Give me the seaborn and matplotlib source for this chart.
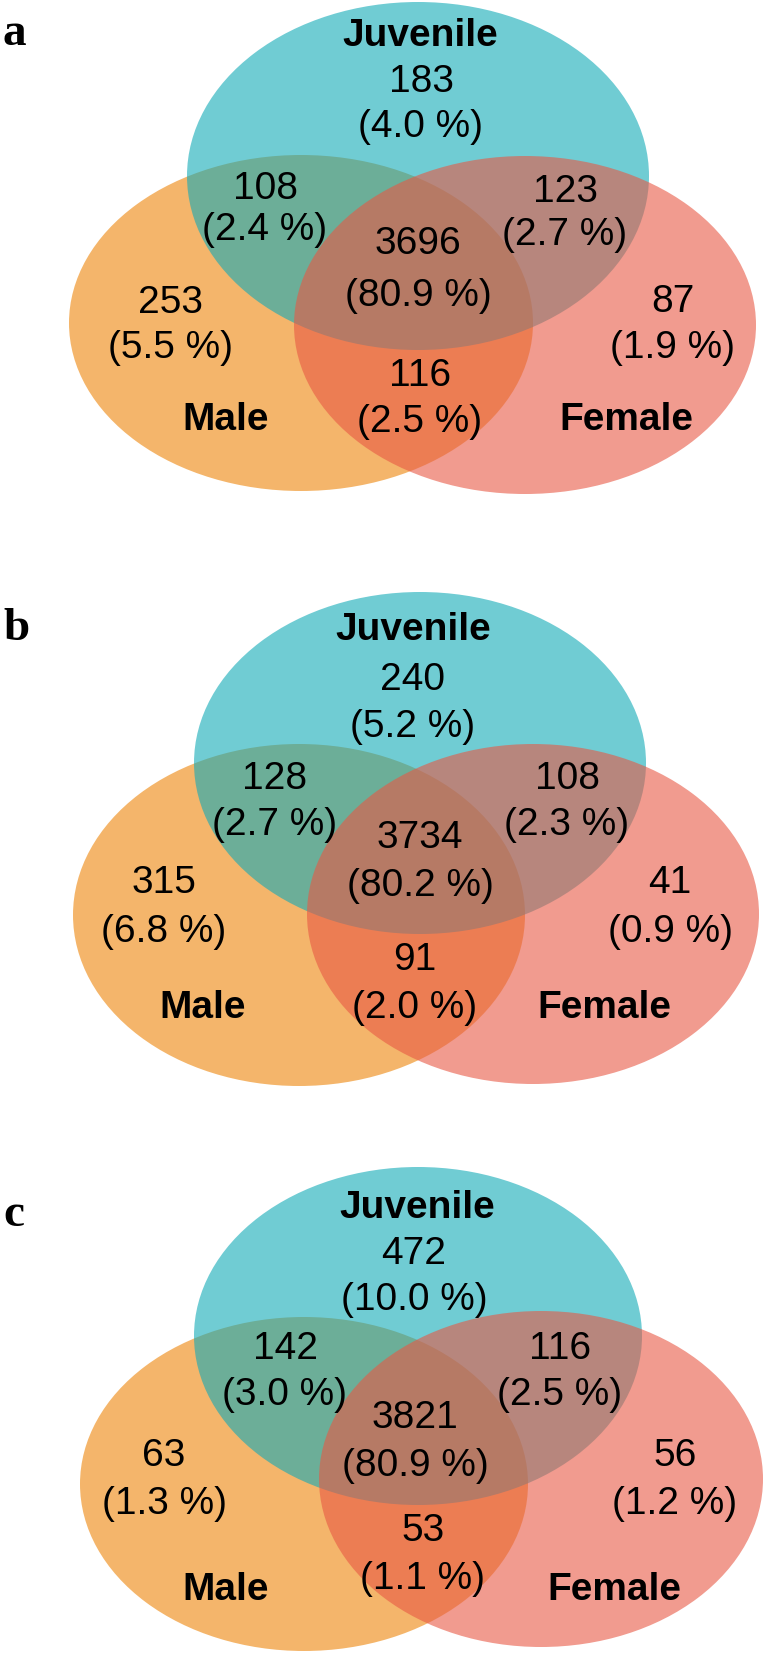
import matplotlib
matplotlib.use("Agg")
import matplotlib.pyplot as plt
from matplotlib.patches import Ellipse
import seaborn as sns

# ---------------- data ----------------
sets = ["Juvenile", "Male", "Female"]
panels = ["a", "b", "c"]
# region order: J only, J&M, J&F, J&M&F, M only, F only, M&F
regions = ["J", "JM", "JF", "JMF", "M", "F", "MF"]
counts_a = [183, 108, 123, 3696, 253, 87, 116]
pcts_a = [4.0, 2.4, 2.7, 80.9, 5.5, 1.9, 2.5]
counts_b = [240, 128, 108, 3734, 315, 41, 91]
pcts_b = [5.2, 2.7, 2.3, 80.2, 6.8, 0.9, 2.0]
counts_c = [472, 142, 116, 3821, 63, 56, 53]
pcts_c = [10.0, 3.0, 2.5, 80.9, 1.3, 1.2, 1.1]

# ---------------- style ----------------
sns.set_theme(style="white")
plt.rcParams["font.family"] = ["Liberation Sans", "DejaVu Sans"]

set_colors = {"Male": "#ED8508", "Juvenile": "#11AAB7", "Female": "#E85844"}
draw_order = ["Male", "Juvenile", "Female"]
ALPHA = 0.6

# layout (pixel coordinates, y downward; text positions are visual centres)
layout = {
    "a": {
        "ell": {"Juvenile": (418, 177, 231, 174), "Male": (301, 324, 232, 168), "Female": (525, 326, 231, 169)},
        "letter": (3, 45),
        "labels": {"Juvenile": (420, 32), "Male": (226, 416), "Female": (626, 416)},
        "pos": {"J": (421, 78, 127), "JM": (265, 185, 230), "JF": (565, 188, 235), "JMF": (418, 240, 296),
                "M": (170, 299, 348), "F": (673, 298, 348), "MF": (420, 372, 422)},
    },
    "b": {
        "ell": {"Juvenile": (420, 764, 226, 171), "Male": (299, 916, 226, 171), "Female": (533, 915, 226, 170)},
        "letter": (3, 640),
        "labels": {"Juvenile": (413, 626), "Male": (203, 1004), "Female": (604, 1004)},
        "pos": {"J": (413, 676, 727), "JM": (275, 775, 825), "JF": (567, 775, 825), "JMF": (420, 834, 886),
                "M": (164, 879, 932), "F": (670, 879, 932), "MF": (415, 956, 1008)},
    },
    "c": {
        "ell": {"Juvenile": (418, 1337, 224, 169), "Male": (304, 1485, 224, 167), "Female": (541, 1480, 222, 168)},
        "letter": (3, 1226),
        "labels": {"Juvenile": (417, 1204), "Male": (226, 1586), "Female": (614, 1586)},
        "pos": {"J": (414, 1250, 1300), "JM": (285, 1345, 1395), "JF": (560, 1345, 1395), "JMF": (415, 1414, 1466),
                "M": (164, 1452, 1504), "F": (675, 1452, 1504), "MF": (423, 1527, 1579)},
    },
}
data = {"a": (counts_a, pcts_a), "b": (counts_b, pcts_b), "c": (counts_c, pcts_c)}

W, H = 766, 1658
fig = plt.figure(figsize=(W / 100, H / 100), dpi=100)
ax = fig.add_axes([0, 0, 1, 1])
ax.set_xlim(0, W)
ax.set_ylim(H, 0)
ax.axis("off")

NUM_FS = 28
LAB_FS = 28
em = NUM_FS * 100 / 72.0
cap_off = 0.358 * em     # centre of digits / capitals -> baseline
par_off = 0.259 * em     # centre of parentheses -> baseline

for p in panels:
    L = layout[p]
    for s in draw_order:
        cx, cy, rx, ry = L["ell"][s]
        ax.add_patch(Ellipse((cx, cy), 2 * rx, 2 * ry, facecolor=set_colors[s],
                             alpha=ALPHA, edgecolor="none", zorder=1))
    counts, pcts = data[p]
    for r, c, pc in zip(regions, counts, pcts):
        x, y1, y2 = L["pos"][r]
        ax.text(x, y1 + cap_off, f"{c}", ha="center", va="baseline", fontsize=NUM_FS,
                color="black", zorder=3)
        ax.text(x, y2 + par_off, f"({pc:.1f} %)", ha="center", va="baseline", fontsize=NUM_FS,
                color="black", zorder=3)
    for s in sets:
        x, y = L["labels"][s]
        ax.text(x, y + cap_off, s, ha="center", va="baseline", fontsize=LAB_FS, fontweight="bold",
                color="black", zorder=3)
    lx, ly = L["letter"]
    ax.text(lx, ly, p, ha="left", va="baseline", fontsize=34, fontweight="bold",
            family=["Liberation Serif", "DejaVu Serif"], color="black", zorder=3)

fig.savefig("out.png", dpi=100, facecolor="white")
